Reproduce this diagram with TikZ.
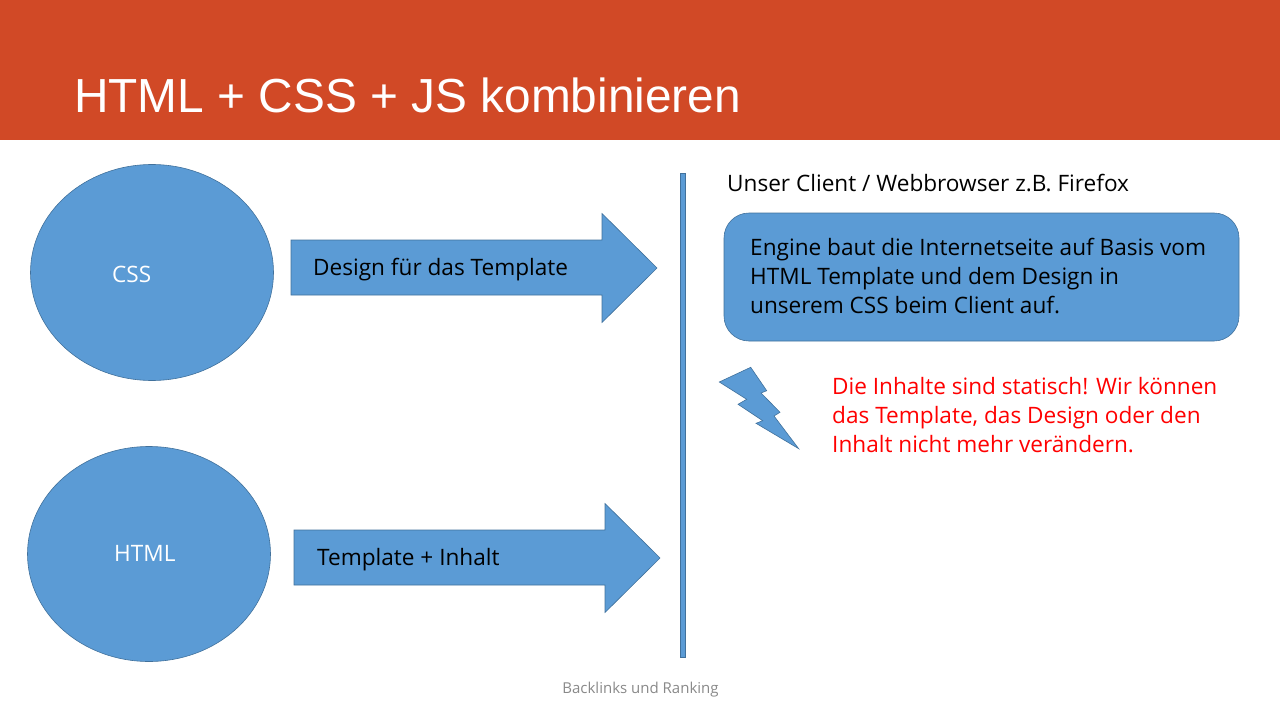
\documentclass[tikz,border=0pt]{standalone}
\usepackage{fontspec}
\usepackage{xcolor}
\setmainfont{Open Sans}
\newfontfamily\titlefont{Liberation Sans}
\definecolor{headred}{RGB}{209,73,38}
\definecolor{shapeblue}{RGB}{91,155,213}
\definecolor{shapeline}{RGB}{65,113,156}
\definecolor{footgray}{RGB}{137,137,137}
\usetikzlibrary{calc}

\begin{document}
\begin{tikzpicture}[x=1pt, y=-1pt]
        \tikzset{
            blob/.style={draw=shapeline, fill=shapeblue, line width=0.6pt},
            blobtext/.style={font=\fontsize{22.6}{29}\selectfont, inner sep=0pt, anchor=west, align=left}
        }
        \useasboundingbox (0, 0) rectangle (1280, 720);

        \fill[headred] (0, 0) rectangle (1280, 140);
        \node[anchor=west, inner sep=0pt, text=white, font=\titlefont\fontsize{47.8}{56}\selectfont] (title) at (74, 95) {HTML + CSS + JS kombinieren};

        % circles on the left
        \draw[blob] (152, 272.5) ellipse [x radius=121.5, y radius=108];
        \draw[blob] (149, 554) ellipse [x radius=121.5, y radius=107.5];
        \node[blobtext, text=white] (css) at (112, 274) {CSS};
        \node[blobtext, text=white] (html) at (114, 553) {HTML};

        % arrows
        \draw[blob] (291, 240) -- (602, 240) -- (602, 213.5) -- (657, 268) -- (602, 322.5) -- (602, 295) -- (291, 295) -- cycle;
        \draw[blob] (294, 530) -- (605, 530) -- (605, 503.5) -- (660, 558) -- (605, 612.5) -- (605, 585) -- (294, 585) -- cycle;
        \node[blobtext] (design) at (313, 270) {Design für das Template};
        \node[blobtext] (template) at (317, 560) {Template + Inhalt};

        % separator
        \draw[blob] (680, 173) rectangle (685, 657);

        % client side
        \node[blobtext] (client) at (727, 183) {Unser Client / Webbrowser z.B. Firefox};
        \draw[blob, rounded corners=25] (724, 213) rectangle (1239, 341);
        \node[blobtext] (engine) at (750, 276) {Engine baut die Internetseite auf Basis vom\\HTML Template und dem Design in\\unserem CSS beim Client auf.};

        % lightning
        \draw[blob] (750.7, 367.3) -- (766.7, 390.7) -- (761, 393) -- (780, 412.3) -- (774, 416) -- (798.7, 448.7) -- (756, 423.3) -- (762.7, 420.7) -- (738, 404.3) -- (746.7, 399.3) -- (719.3, 382) -- cycle;
        \node[blobtext, text=red] (warning) at (832, 415) {Die Inhalte sind statisch! Wir können\\das Template, das Design oder den\\Inhalt nicht mehr verändern.};

        \node[inner sep=0pt, text=footgray, font=\fontsize{15}{17}\selectfont] (footer) at (640.5, 690) {Backlinks und Ranking};
    \end{tikzpicture}
\end{document}
